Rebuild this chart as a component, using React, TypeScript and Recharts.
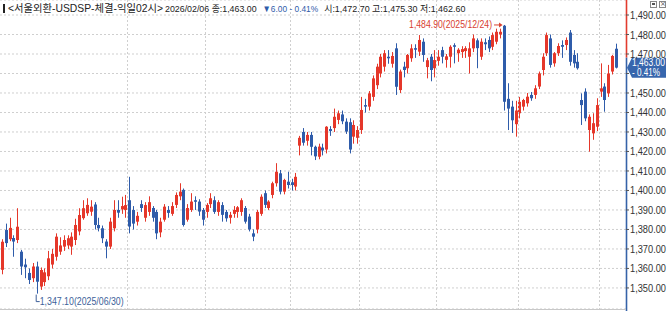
import React from "react";
import { ComposedChart, Bar, XAxis, YAxis, CartesianGrid, ReferenceLine, ReferenceDot } from "recharts";

const W = 670;
const H = 311;
const AXIS_W = 44;
const PAD_R = 8;
const MARGIN = { top: 0, right: 0, bottom: 2, left: 0 };
const PLOT_RIGHT = W - AXIS_W;
const UP = "#e5372a";
const DOWN = "#2f5caa";
const GRID = "#cfcfcf";
const FONT = "'Liberation Sans', 'Noto Sans CJK KR', sans-serif";

const title = "서울외환-USDSP-체결-익일02시";

const dates = [
  // 2025-06
  "2025/06/17", "2025/06/18", "2025/06/19", "2025/06/20", "2025/06/23", "2025/06/24", "2025/06/25", "2025/06/26", "2025/06/27", "2025/06/30",
  // 2025-07
  "2025/07/01", "2025/07/02", "2025/07/03", "2025/07/04", "2025/07/07", "2025/07/08", "2025/07/09", "2025/07/10", "2025/07/11", "2025/07/14",
  "2025/07/15", "2025/07/16", "2025/07/17", "2025/07/18", "2025/07/21", "2025/07/22", "2025/07/23", "2025/07/24", "2025/07/25", "2025/07/28",
  "2025/07/29", "2025/07/30", "2025/07/31",
  // 2025-08
  "2025/08/01", "2025/08/04", "2025/08/05", "2025/08/06", "2025/08/07", "2025/08/08", "2025/08/11", "2025/08/12", "2025/08/13", "2025/08/14",
  "2025/08/18", "2025/08/19", "2025/08/20", "2025/08/21", "2025/08/22", "2025/08/25", "2025/08/26", "2025/08/27", "2025/08/28", "2025/08/29",
  // 2025-09
  "2025/09/01", "2025/09/02", "2025/09/03", "2025/09/04", "2025/09/05", "2025/09/08", "2025/09/09", "2025/09/10", "2025/09/11", "2025/09/12",
  "2025/09/15", "2025/09/16", "2025/09/17", "2025/09/18", "2025/09/19", "2025/09/22", "2025/09/23", "2025/09/24", "2025/09/25", "2025/09/26",
  "2025/09/29", "2025/09/30",
  // 2025-10
  "2025/10/01", "2025/10/02", "2025/10/10", "2025/10/13", "2025/10/14", "2025/10/15", "2025/10/16", "2025/10/17", "2025/10/20", "2025/10/21",
  "2025/10/22", "2025/10/23", "2025/10/24", "2025/10/27", "2025/10/28", "2025/10/29", "2025/10/30", "2025/10/31",
  // 2025-11
  "2025/11/03", "2025/11/04", "2025/11/05", "2025/11/06", "2025/11/07", "2025/11/10", "2025/11/11", "2025/11/12", "2025/11/13", "2025/11/14",
  "2025/11/17", "2025/11/18", "2025/11/19", "2025/11/20", "2025/11/21", "2025/11/24", "2025/11/25", "2025/11/26", "2025/11/27", "2025/11/28",
  // 2025-12
  "2025/12/01", "2025/12/02", "2025/12/03", "2025/12/04", "2025/12/05", "2025/12/08", "2025/12/09", "2025/12/10", "2025/12/11", "2025/12/12",
  "2025/12/15", "2025/12/16", "2025/12/17", "2025/12/18", "2025/12/19", "2025/12/22", "2025/12/23", "2025/12/24", "2025/12/26", "2025/12/29",
  "2025/12/30",
  // 2026-01
  "2026/01/02", "2026/01/05", "2026/01/06", "2026/01/07", "2026/01/08", "2026/01/09", "2026/01/12", "2026/01/13", "2026/01/14", "2026/01/15",
  "2026/01/16", "2026/01/19", "2026/01/20", "2026/01/21", "2026/01/22", "2026/01/23", "2026/01/26", "2026/01/27", "2026/01/28", "2026/01/29",
  "2026/01/30",
  // 2026-02
  "2026/02/02", "2026/02/03", "2026/02/04", "2026/02/05", "2026/02/06",
];

const open = [
  1359.3, 1379.7, 1375.0, 1375.6, 1374.6, 1368.6, 1362.0, 1357.7, 1355.0, 1361.0,
  1350.7, 1353.0, 1356.0, 1362.0, 1366.0, 1368.6, 1371.2, 1371.8, 1371.2, 1374.6,
  1379.0, 1385.8, 1388.3, 1389.1, 1392.8, 1382.3, 1380.6, 1373.8, 1371.2, 1380.6,
  1390.0, 1390.3, 1390.0,
  1395.0, 1390.0, 1384.0, 1393.0, 1386.0, 1389.0, 1391.0, 1389.0, 1378.5, 1385.0,
  1390.0, 1388.0, 1392.6, 1397.0, 1400.3, 1385.0, 1390.0, 1395.0, 1394.3, 1390.0,
  1389.0, 1393.0, 1395.0, 1389.0, 1392.5, 1389.0, 1386.0, 1388.0, 1389.0, 1389.0,
  1391.0, 1386.6, 1378.0, 1380.0, 1388.0, 1398.6, 1391.0, 1397.7, 1403.7, 1408.8,
  1399.4, 1404.5,
  1404.2, 1402.0, 1423.0, 1430.0, 1425.5, 1428.5, 1422.4, 1417.3, 1422.0, 1421.0,
  1431.5, 1432.0, 1436.2, 1439.0, 1435.3, 1435.0, 1427.6, 1427.0,
  1431.0, 1443.8, 1443.0, 1448.0, 1454.0, 1460.0, 1463.5, 1468.6, 1465.0, 1472.9,
  1451.5, 1463.5, 1462.7, 1467.8, 1473.0, 1471.2, 1476.3, 1463.3, 1468.6, 1462.7,
  1466.5, 1472.0, 1467.0, 1468.6, 1474.5, 1470.4, 1471.0, 1471.5, 1468.6, 1472.9,
  1477.0, 1468.6, 1476.0, 1477.2, 1473.7, 1476.3, 1480.0, 1484.5, 1447.0, 1443.0,
  1434.0,
  1439.6, 1443.0, 1444.7, 1449.0, 1449.0, 1453.3, 1461.8, 1470.4, 1478.0, 1465.2,
  1470.4, 1474.6, 1474.6, 1481.0, 1469.5, 1466.0, 1446.4, 1450.7, 1431.0, 1429.3,
  1432.7,
  1450.7, 1453.3, 1449.8, 1461.0, 1472.7,
];

const high = [
  1375.0, 1383.0, 1386.0, 1377.0, 1390.9, 1369.5, 1365.0, 1360.0, 1362.8, 1363.5,
  1360.5, 1360.0, 1369.0, 1370.0, 1378.0, 1376.0, 1377.0, 1377.0, 1378.5, 1385.5,
  1390.9, 1395.0, 1396.0, 1395.0, 1394.0, 1386.0, 1382.0, 1375.0, 1386.0, 1395.0,
  1395.0, 1396.8, 1397.7,
  1407.0, 1392.0, 1389.0, 1395.0, 1394.0, 1397.0, 1392.0, 1390.0, 1386.0, 1393.0,
  1392.0, 1394.0, 1399.0, 1403.7, 1401.0, 1393.0, 1398.6, 1397.0, 1395.5, 1391.0,
  1393.5, 1398.6, 1397.0, 1395.0, 1394.0, 1390.0, 1389.0, 1392.0, 1392.0, 1396.0,
  1392.0, 1388.0, 1380.0, 1390.0, 1398.0, 1400.0, 1395.0, 1404.5, 1414.0, 1410.5,
  1406.0, 1409.6,
  1406.0, 1409.0, 1428.0, 1432.0, 1430.0, 1430.0, 1423.0, 1424.0, 1424.0, 1433.0,
  1433.0, 1442.0, 1441.0, 1441.0, 1437.0, 1437.0, 1436.0, 1433.0,
  1448.0, 1447.0, 1451.0, 1459.0, 1465.0, 1470.0, 1472.0, 1472.0, 1471.0, 1475.5,
  1462.0, 1466.0, 1470.0, 1475.0, 1475.0, 1479.7, 1478.0, 1468.0, 1470.0, 1472.0,
  1472.0, 1473.7, 1470.0, 1474.5, 1475.5, 1473.0, 1474.0, 1474.0, 1476.0, 1480.0,
  1478.0, 1478.0, 1478.0, 1479.0, 1481.0, 1483.0, 1483.0, 1484.9, 1455.0, 1446.0,
  1446.0,
  1448.0, 1447.0, 1450.0, 1450.5, 1454.0, 1461.0, 1470.4, 1481.0, 1480.0, 1471.0,
  1475.5, 1477.0, 1478.5, 1482.3, 1472.0, 1470.4, 1449.8, 1452.4, 1439.0, 1439.6,
  1447.3,
  1465.2, 1455.0, 1464.4, 1469.5, 1475.3,
];

const low = [
  1357.0, 1371.0, 1374.0, 1366.0, 1373.0, 1356.7, 1355.0, 1352.0, 1353.0, 1347.1,
  1349.0, 1351.0, 1354.0, 1360.0, 1364.0, 1367.0, 1369.0, 1370.0, 1367.0, 1372.0,
  1377.0, 1385.0, 1387.0, 1387.0, 1380.0, 1379.0, 1373.0, 1365.2, 1370.0, 1379.0,
  1386.0, 1388.0, 1386.0,
  1378.0, 1380.0, 1382.0, 1389.0, 1384.0, 1387.0, 1384.0, 1375.0, 1376.0, 1384.0,
  1386.0, 1387.0, 1391.0, 1395.0, 1381.5, 1384.0, 1389.0, 1390.0, 1387.0, 1382.0,
  1386.0, 1391.0, 1388.0, 1387.0, 1384.0, 1384.0, 1383.0, 1386.0, 1386.0, 1387.0,
  1383.0, 1379.0, 1374.0, 1378.0, 1387.0, 1391.0, 1390.0, 1396.0, 1402.0, 1398.0,
  1398.0, 1401.0,
  1400.0, 1400.0, 1418.0, 1423.0, 1423.0, 1418.0, 1415.6, 1416.0, 1418.0, 1419.0,
  1428.0, 1430.0, 1434.0, 1434.0, 1429.0, 1419.0, 1424.0, 1424.0,
  1429.0, 1440.0, 1441.0, 1446.0, 1452.0, 1458.0, 1461.0, 1465.0, 1463.0, 1449.0,
  1450.0, 1458.0, 1460.0, 1466.0, 1468.0, 1469.0, 1466.0, 1457.5, 1456.0, 1458.0,
  1464.0, 1465.2, 1463.0, 1463.0, 1465.2, 1466.0, 1468.0, 1468.0, 1460.0, 1471.0,
  1462.7, 1467.0, 1472.0, 1471.0, 1472.0, 1475.0, 1478.0, 1441.0, 1431.0, 1429.5,
  1427.6,
  1437.0, 1441.0, 1443.0, 1446.0, 1447.0, 1452.0, 1459.0, 1469.0, 1463.0, 1463.5,
  1469.0, 1468.0, 1472.0, 1464.0, 1463.0, 1462.0, 1433.6, 1435.5, 1419.9, 1426.0,
  1430.5,
  1448.0, 1440.4, 1448.0, 1459.5, 1462.6,
];

const close = [
  1373.7, 1373.0, 1380.8, 1373.8, 1381.4, 1361.0, 1360.6, 1354.1, 1361.0, 1353.2,
  1359.2, 1358.0, 1365.2, 1367.5, 1376.3, 1371.8, 1374.6, 1375.5, 1376.3, 1382.3,
  1387.4, 1390.9, 1392.6, 1391.7, 1382.3, 1380.6, 1375.5, 1371.2, 1384.0, 1390.0,
  1388.6, 1392.0, 1392.5,
  1381.5, 1383.0, 1387.0, 1391.0, 1392.5, 1394.0, 1386.0, 1378.0, 1384.0, 1391.7,
  1388.5, 1392.0, 1397.7, 1399.4, 1382.3, 1391.0, 1394.3, 1394.2, 1389.2, 1385.0,
  1392.6, 1396.0, 1389.0, 1394.0, 1387.5, 1385.7, 1387.5, 1390.0, 1391.4, 1395.0,
  1384.0, 1380.0, 1376.3, 1389.0, 1396.8, 1392.6, 1394.3, 1403.7, 1409.6, 1399.4,
  1405.4, 1402.8,
  1402.8, 1407.0, 1427.0, 1424.5, 1428.5, 1422.4, 1417.5, 1422.5, 1420.5, 1432.7,
  1430.5, 1437.8, 1439.6, 1435.5, 1430.2, 1421.0, 1433.6, 1431.0,
  1441.3, 1443.0, 1449.8, 1457.5, 1463.5, 1468.6, 1470.4, 1467.8, 1469.0, 1453.2,
  1461.0, 1461.8, 1469.5, 1472.9, 1472.2, 1477.2, 1469.5, 1466.8, 1461.8, 1466.9,
  1468.6, 1468.6, 1468.8, 1473.7, 1473.7, 1472.2, 1472.5, 1473.0, 1472.9, 1478.0,
  1473.0, 1476.3, 1475.0, 1472.9, 1479.7, 1481.4, 1481.4, 1445.5, 1442.0, 1436.0,
  1441.0,
  1445.5, 1446.4, 1448.1, 1447.3, 1452.4, 1460.0, 1468.6, 1479.7, 1464.4, 1470.4,
  1474.1, 1473.7, 1477.2, 1466.0, 1465.2, 1462.7, 1443.8, 1437.0, 1437.8, 1434.5,
  1443.8,
  1452.4, 1446.4, 1460.0, 1469.0, 1463.0,
];

const yTicks = [1350, 1360, 1370, 1380, 1390, 1400, 1410, 1420, 1430, 1440, 1450, 1460, 1470, 1480, 1490];
const yDomain = [1339.2, 1497.7];
const monthStarts = ["2025/08/01", "2025/09/01", "2025/10/01", "2025/11/03", "2025/12/01", "2026/01/02", "2026/02/02"];

const data = dates.map((date, i) => ({ date, open: open[i], high: high[i], low: low[i], close: close[i] }));

const fmt = (v: number) => v.toLocaleString("en-US", { minimumFractionDigits: 2, maximumFractionDigits: 2 });

const last = dates.length - 1;
const change = close[last] - close[last - 1];
const pct = Math.abs((change / close[last - 1]) * 100).toFixed(2);
const iMax = high.indexOf(Math.max(...high));
const iMin = low.indexOf(Math.min(...low));

// month separators sit on the left edge of each month's first category band
const bandW = (PLOT_RIGHT - MARGIN.left - PAD_R) / dates.length;
const monthLines = monthStarts.map((d) => Math.round(MARGIN.left + dates.indexOf(d) * bandW) + 0.5);

const Candle = (props: any) => {
  const { x, y, width, height, payload } = props;
  if (!payload) return null;
  const { open: o, close: c, high: h, low: l } = payload;
  const top = Math.min(y, y + height);
  const span = Math.abs(height);
  const py = (p: number) => (h === l ? top : top + ((h - p) / (h - l)) * span);
  const color = c >= o ? UP : DOWN;
  const cx = Math.round(x + width / 2);
  const bodyTop = py(Math.max(o, c));
  const bodyH = Math.max(1, py(Math.min(o, c)) - bodyTop);
  return (
    <g>
      <line x1={cx + 0.5} x2={cx + 0.5} y1={top} y2={top + span} stroke={color} strokeWidth={1} />
      <rect x={cx - 1} y={bodyTop} width={3} height={bodyH} fill={color} />
    </g>
  );
};

const MonthSeparators = () => (
  <g>
    {monthLines.map((x) => (
      <line key={x} x1={x} x2={x} y1={MARGIN.top} y2={H - MARGIN.bottom} stroke={GRID} strokeDasharray="2 2" />
    ))}
  </g>
);

const AxisTick = (p: any) => {
  const v = p.payload.value;
  // the last-price tag covers the label beneath it
  if (Math.abs(v - close[last]) < 5) return null;
  return (
    <text x={p.x} y={p.y} dy={4} fill="#333" fontSize={10} fontFamily={FONT} textLength={36} lengthAdjust="spacingAndGlyphs">
      {fmt(v)}
    </text>
  );
};

const PriceTag = (p: any) => {
  const x = PLOT_RIGHT;
  const y = p.y1;
  return (
    <g>
      <line x1={x + 0.5} x2={x + 0.5} y1={0} y2={y - 10} stroke="#e23b2e" strokeWidth={1.6} />
      <line x1={x + 0.5} x2={x + 0.5} y1={y - 10} y2={H} stroke="#3562a8" strokeWidth={1.6} />
      <path d={`M${x + 1},${y} L${x + 6},${y - 10} L${x + 40},${y - 10} L${x + 40},${y + 10} L${x + 6},${y + 10} Z`} fill="#3766ad" />
      <text x={x + 6} y={y - 1.5} fill="#fff" fontSize={10} fontFamily={FONT} textLength={33} lengthAdjust="spacingAndGlyphs">{fmt(close[last])}</text>
      <text x={x + 6} y={y + 8.5} fill="#fff" fontSize={10} fontFamily={FONT} textLength={28} lengthAdjust="spacingAndGlyphs">{`- ${pct}%`}</text>
    </g>
  );
};

const HighMark = (p: any) => {
  const { cx, cy } = p;
  return (
    <g>
      <text x={cx - 95} y={cy + 3.5} fill="#d8412f" fontSize={10.5} fontFamily={FONT} textLength={83} lengthAdjust="spacingAndGlyphs">
        {`${fmt(high[iMax])}(${dates[iMax]})`}
      </text>
      <line x1={cx - 10} x2={cx - 3} y1={cy} y2={cy} stroke="#d8412f" strokeWidth={1} />
      <path d={`M${cx - 1.5},${cy} L${cx - 5},${cy - 2.5} L${cx - 5},${cy + 2.5} Z`} fill="#d8412f" />
    </g>
  );
};

const LowMark = (p: any) => {
  const { cx, cy } = p;
  return (
    <g>
      <path d={`M${cx - 0.5},${cy + 1} L${cx - 0.5},${cy + 8} L${cx + 3},${cy + 8}`} stroke="#3d5f99" fill="none" strokeWidth={1} />
      <text x={cx + 3} y={cy + 11.5} fill="#3d5f99" fontSize={10.5} fontFamily={FONT} textLength={84} lengthAdjust="spacingAndGlyphs">
        {`${fmt(low[iMin])}(${dates[iMin]})`}
      </text>
    </g>
  );
};

// rough glyph widths of the terminal font, used to lay the header pieces side by side
const glyphW = (s: string) =>
  [...s].reduce((w, ch) => {
    if (/[\uac00-\ud7a3]/.test(ch)) return w + 9.2;
    if (/[0-9]/.test(ch)) return w + 4.7;
    if (ch === "," || ch === ".") return w + 2.4;
    if (ch === " ") return w + 2.8;
    if (ch === "%" || ch === "▼" || ch === "▲") return w + 7;
    return w + 3;
  }, 0);

const Header = () => {
  const pieces = [
    { text: `${dates[last]} 종:${fmt(close[last])}`, color: "#222" },
    { text: `${change < 0 ? "▼" : "▲"}${fmt(Math.abs(change))} - ${pct}%`, color: DOWN },
    { text: `시:${fmt(open[last])} 고:${fmt(high[last])} 저:${fmt(low[last])}`, color: "#222" },
  ];
  let x = 165;
  return (
    <svg width={W} height={16} style={{ position: "absolute", left: 0, top: 0 }}>
      <rect x={3} y={4} width={2} height={9} fill="#222" />
      <text x={8} y={12} fontSize={10.5} fontFamily={FONT} fill="#222" textLength={155} lengthAdjust="spacingAndGlyphs">
        {`<${title}>`}
      </text>
      {pieces.map((p) => {
        const w = glyphW(p.text);
        const el = (
          <text key={p.text} x={x} y={12} fontSize={9.5} fontFamily={FONT} fill={p.color} textLength={w} lengthAdjust="spacingAndGlyphs">
            {p.text}
          </text>
        );
        x += w + 6;
        return el;
      })}
    </svg>
  );
};

export default function App() {
  return (
    <div style={{ position: "absolute", left: 0, top: 0, width: W, height: H, background: "#fff", overflow: "hidden" }}>
      <ComposedChart width={W} height={H} data={data} margin={MARGIN}>
        <CartesianGrid stroke={GRID} strokeDasharray="2 2" verticalPoints={monthLines} />
        <XAxis dataKey="date" height={0} tick={false} tickLine={false} axisLine={false} padding={{ left: 0, right: PAD_R }} />
        <YAxis
          orientation="right"
          domain={yDomain}
          allowDataOverflow
          ticks={yTicks}
          interval={0}
          width={AXIS_W}
          axisLine={false}
          tickLine={{ stroke: "#555" }}
          tickSize={3}
          tickMargin={1}
          tick={(p: any) => <AxisTick {...p} />}
        />
        <Bar dataKey={(d: any) => [d.low, d.high]} shape={(p: any) => <Candle {...p} />} isAnimationActive={false} />
        <ReferenceLine y={yDomain[1]} ifOverflow="visible" shape={() => <MonthSeparators />} />
        <ReferenceLine y={close[last]} ifOverflow="visible" shape={(p: any) => <PriceTag {...p} />} />
        <ReferenceDot x={dates[iMax]} y={high[iMax]} r={0} ifOverflow="visible" shape={(p: any) => <HighMark {...p} />} />
        <ReferenceDot x={dates[iMin]} y={low[iMin]} r={0} ifOverflow="visible" shape={(p: any) => <LowMark {...p} />} />
      </ComposedChart>
      <div style={{ position: "absolute", left: 0, top: 309, width: PLOT_RIGHT, height: 1, background: "#c8c8c8" }} />
      <Header />
      <div style={{ position: "absolute", left: 650, top: 1, width: 7, height: 7, border: "1px solid #888", boxSizing: "border-box" }}>
        <div style={{ margin: "1px", height: 2, background: "#555" }} />
      </div>
      <div style={{ position: "absolute", left: 659, top: 1, width: 7, height: 7, border: "1px solid #888", boxSizing: "border-box", fontSize: 7, lineHeight: "5px", textAlign: "center", color: "#555", fontFamily: "DejaVu Sans" }}>
        ×
      </div>
    </div>
  );
}
